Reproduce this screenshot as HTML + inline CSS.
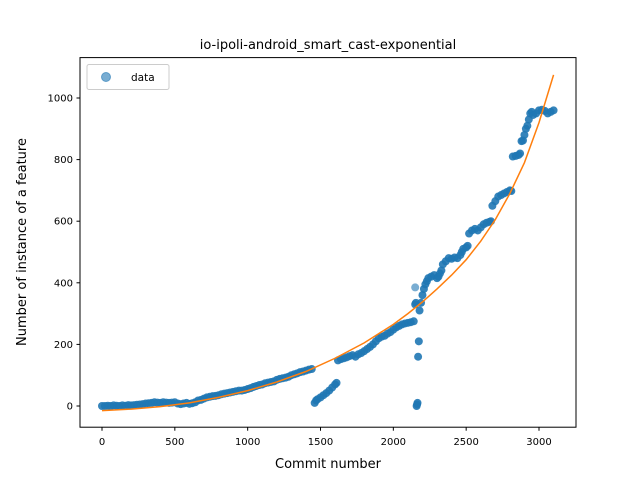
<!DOCTYPE html>
<html><head><meta charset="utf-8"><style>
body{margin:0;background:#fff;}
svg{display:block;font-family:"DejaVu Sans","Liberation Sans",sans-serif;}
</style></head><body>
<svg id="chart" width="640" height="480">
<rect width="640" height="480" fill="#fff"/>
<text x="328" y="49" text-anchor="middle" font-size="13">io-ipoli-android_smart_cast-exponential</text>
<g id="marks"></g>
<g id="axes"></g>
<rect x="80" y="57.6" width="496" height="369.6" fill="none" stroke="#000" stroke-width="1"/>
<text x="328" y="468" text-anchor="middle" font-size="13">Commit number</text>
<text transform="translate(26,242) rotate(-90)" text-anchor="middle" font-size="13">Number of instance of a feature</text>
<g>
<rect x="87" y="64.5" width="82" height="25" rx="2" fill="#fff" stroke="#ccc"/>
<circle cx="106" cy="77" r="4.5" fill="#1f77b4" fill-opacity="0.6" stroke="#1f77b4" stroke-opacity="0.6"/>
<text x="131" y="81" font-size="10.5">data</text>
</g>
</svg>
<script>
const dataX=[0,20,40,60,80,100,120,140,160,180,200,220,240,260,280,300,320,340,360,380,400,420,440,460,480,500,520,540,560,580,600,620,640,660,680,700,720,740,760,780,800,820,840,860,880,900,920,940,960,980,1000,1020,1040,1060,1080,1100,1120,1140,1160,1180,1200,1220,1240,1260,1280,1300,1320,1340,1360,1380,1400,1420,1440,1460,1470,1480,1500,1520,1540,1560,1580,1600,1610,1620,1640,1660,1680,1700,1720,1740,1760,1780,1800,1820,1840,1860,1880,1900,1920,1940,1960,1980,2000,2020,2040,2060,2080,2100,2120,2140,2150,2155,2160,2163,2166,2170,2175,2180,2190,2200,2210,2220,2230,2240,2260,2280,2300,2310,2320,2330,2340,2360,2380,2400,2420,2440,2460,2470,2480,2500,2510,2520,2540,2560,2580,2600,2620,2640,2660,2670,2680,2700,2720,2740,2760,2780,2800,2810,2820,2840,2860,2870,2880,2890,2900,2910,2920,2930,2940,2950,2960,2980,3000,3020,3040,3060,3080,3100,2150];
const dataY=[0,0,1,0,2,1,0,2,1,3,2,3,4,5,6,8,9,10,12,11,10,12,11,10,11,12,8,6,8,10,7,9,12,18,20,24,28,30,32,33,35,38,40,42,44,46,48,50,50,52,55,58,62,65,68,70,74,76,78,80,85,88,90,92,95,100,103,106,110,112,115,118,120,10,18,22,28,35,42,50,60,70,75,148,152,155,158,162,165,160,168,172,178,185,192,200,210,220,225,228,235,240,248,255,260,265,268,270,272,275,330,335,0,5,10,160,210,310,335,360,380,395,405,415,420,425,415,420,430,440,460,470,480,478,482,480,490,500,510,515,520,560,570,575,570,580,590,595,598,600,650,665,680,685,690,695,700,698,810,812,815,820,860,862,880,900,910,930,950,955,945,950,960,962,958,950,955,960,385];
const fitX=[0,200,400,600,800,1000,1200,1400,1600,1800,1900,2000,2100,2200,2300,2400,2500,2600,2700,2800,2900,3000,3100];
const fitY=[-15,-10,-2,10,28,50,78,112,155,205,235,265,300,338,380,425,475,535,605,690,790,920,1075];
const xTicks=[0,500,1000,1500,2000,2500,3000];
const yTicks=[0,200,400,600,800,1000];
const NS="http://www.w3.org/2000/svg";
function sx(v){return 102+v*(437/3000);}
function sy(v){return 406-v*0.308;}
const marks=document.getElementById('marks');
for(let i=0;i<dataX.length;i++){
  const c=document.createElementNS(NS,'circle');
  c.setAttribute('cx',sx(dataX[i]));c.setAttribute('cy',sy(dataY[i]));c.setAttribute('r',4);
  c.setAttribute('fill','#1f77b4');c.setAttribute('fill-opacity',i==dataX.length-1?'0.6':'0.9');
  
  
  marks.appendChild(c);
}
const pl=document.createElementNS(NS,'polyline');
pl.setAttribute('points',fitX.map((x,i)=>sx(x)+','+sy(fitY[i])).join(' '));
pl.setAttribute('fill','none');pl.setAttribute('stroke','#ff7f0e');pl.setAttribute('stroke-width','1.5');


marks.appendChild(pl);
const axes=document.getElementById('axes');
xTicks.forEach(t=>{
  const l=document.createElementNS(NS,'line');
  l.setAttribute('x1',sx(t));l.setAttribute('x2',sx(t));l.setAttribute('y1',427.2);l.setAttribute('y2',430.7);l.setAttribute('stroke','#000');
  
  
  axes.appendChild(l);
  const tx=document.createElementNS(NS,'text');
  tx.setAttribute('x',sx(t));tx.setAttribute('y',445);tx.setAttribute('text-anchor','middle');tx.setAttribute('font-size','10');
  tx.textContent=t;
  
  
  axes.appendChild(tx);
});
yTicks.forEach(t=>{
  const l=document.createElementNS(NS,'line');
  l.setAttribute('x1',76.5);l.setAttribute('x2',80);l.setAttribute('y1',sy(t));l.setAttribute('y2',sy(t));l.setAttribute('stroke','#000');
  
  
  axes.appendChild(l);
  const tx=document.createElementNS(NS,'text');
  tx.setAttribute('x',73);tx.setAttribute('y',sy(t)+3.5);tx.setAttribute('text-anchor','end');tx.setAttribute('font-size','10');
  tx.textContent=t;
  
  
  axes.appendChild(tx);
});
</script>
</body></html>
